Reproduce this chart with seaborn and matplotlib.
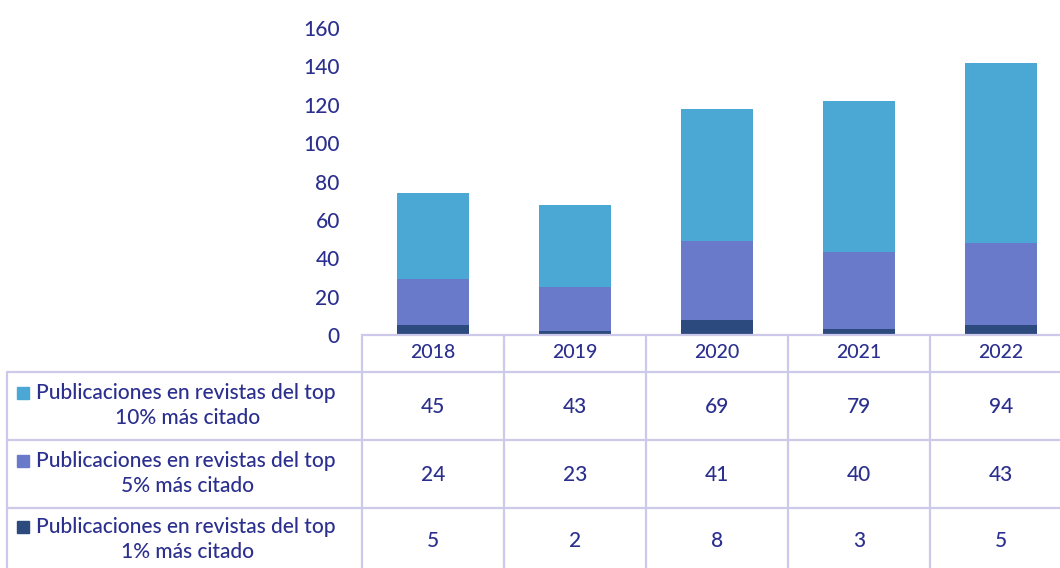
import pandas as pd
import matplotlib
matplotlib.use("Agg")
import matplotlib.pyplot as plt
from matplotlib.patches import Rectangle
import seaborn as sns

years = ["2018", "2019", "2020", "2021", "2022"]
top10 = [45, 43, 69, 79, 94]
top5 = [24, 23, 41, 40, 43]
top1 = [5, 2, 8, 3, 5]
series_labels = [
    ("Publicaciones en revistas del top", "10% más citado"),
    ("Publicaciones en revistas del top", "5% más citado"),
    ("Publicaciones en revistas del top", "1% más citado"),
]

C10 = "#4BA7D3"
C5 = "#6A7ACB"
C1 = "#2C4A7E"
TXT = "#2B2F8E"
GRID = "#CDC9EA"

sns.set_theme(style="white")
plt.rcParams["font.family"] = ["Lato", "DejaVu Sans"]
plt.rcParams["font.weight"] = "medium"

df = pd.DataFrame({"year": years, "top10": top10, "top5": top5, "top1": top1})
df["s1"] = df["top1"]
df["s5"] = df["top1"] + df["top5"]
df["s10"] = df["s5"] + df["top10"]

W, H = 1060, 568
fig = plt.figure(figsize=(W / 100, H / 100), dpi=100)

# bar area: x from 362 to 1072 px, y from 335 (0) to 28 (160)
ax = fig.add_axes([362 / W, (H - 335) / H, 710 / W, (335 - 28) / H])
for col, c in [("s10", C10), ("s5", C5), ("s1", C1)]:
    sns.barplot(data=df, x="year", y=col, color=c, saturation=1, width=0.51,
                linewidth=0, ax=ax)
ax.set_ylim(0, 160)
ax.set_xlim(-0.5, 4.5)
ax.set_yticks(range(0, 161, 20))
ax.tick_params(axis="y", length=0, pad=16, labelsize=15, labelcolor=TXT)
ax.set_xticks([])
ax.set_xlabel("")
ax.set_ylabel("")
sns.despine(ax=ax, left=True, bottom=True)

# data table drawn in pixel coordinates
tab = fig.add_axes([0, 0, 1, 1])
tab.set_xlim(0, W)
tab.set_ylim(H, 0)
tab.axis("off")
tab.patch.set_alpha(0)

col_w = 142
x0 = 362
edges = [x0 + col_w * i for i in range(len(years) + 1)]
rows = [372, 440, 508, 576]
lw = 1.6

tab.plot([x0, edges[-1]], [335, 335], color=GRID, lw=lw)
for y in rows[:-1]:
    tab.plot([7, edges[-1]], [y, y], color=GRID, lw=lw)
tab.plot([7, 7], [372, H], color=GRID, lw=lw)
for x in edges[:-1]:
    tab.plot([x, x], [335, H], color=GRID, lw=lw)

for i, yr in enumerate(years):
    cx = x0 + col_w * (i + 0.5)
    tab.text(cx, 353, yr, ha="center", va="center", fontsize=14, color=TXT)

values = [top10, top5, top1]
colors = [C10, C5, C1]
for r, (vals, c, lab) in enumerate(zip(values, colors, series_labels)):
    cy = (rows[r] + rows[r + 1]) / 2 if r < 2 else 540
    for i, v in enumerate(vals):
        cx = x0 + col_w * (i + 0.5)
        tab.text(cx, cy + 1, str(v), ha="center", va="center", fontsize=15, color=TXT)
    tab.add_patch(Rectangle((17, cy - 19), 12, 12, color=c))
    tab.text(36, cy - 13, lab[0], ha="left", va="center", fontsize=15, color=TXT)
    tab.text(188, cy + 12, lab[1], ha="center", va="center", fontsize=15, color=TXT)

fig.savefig("out.png", dpi=100)
